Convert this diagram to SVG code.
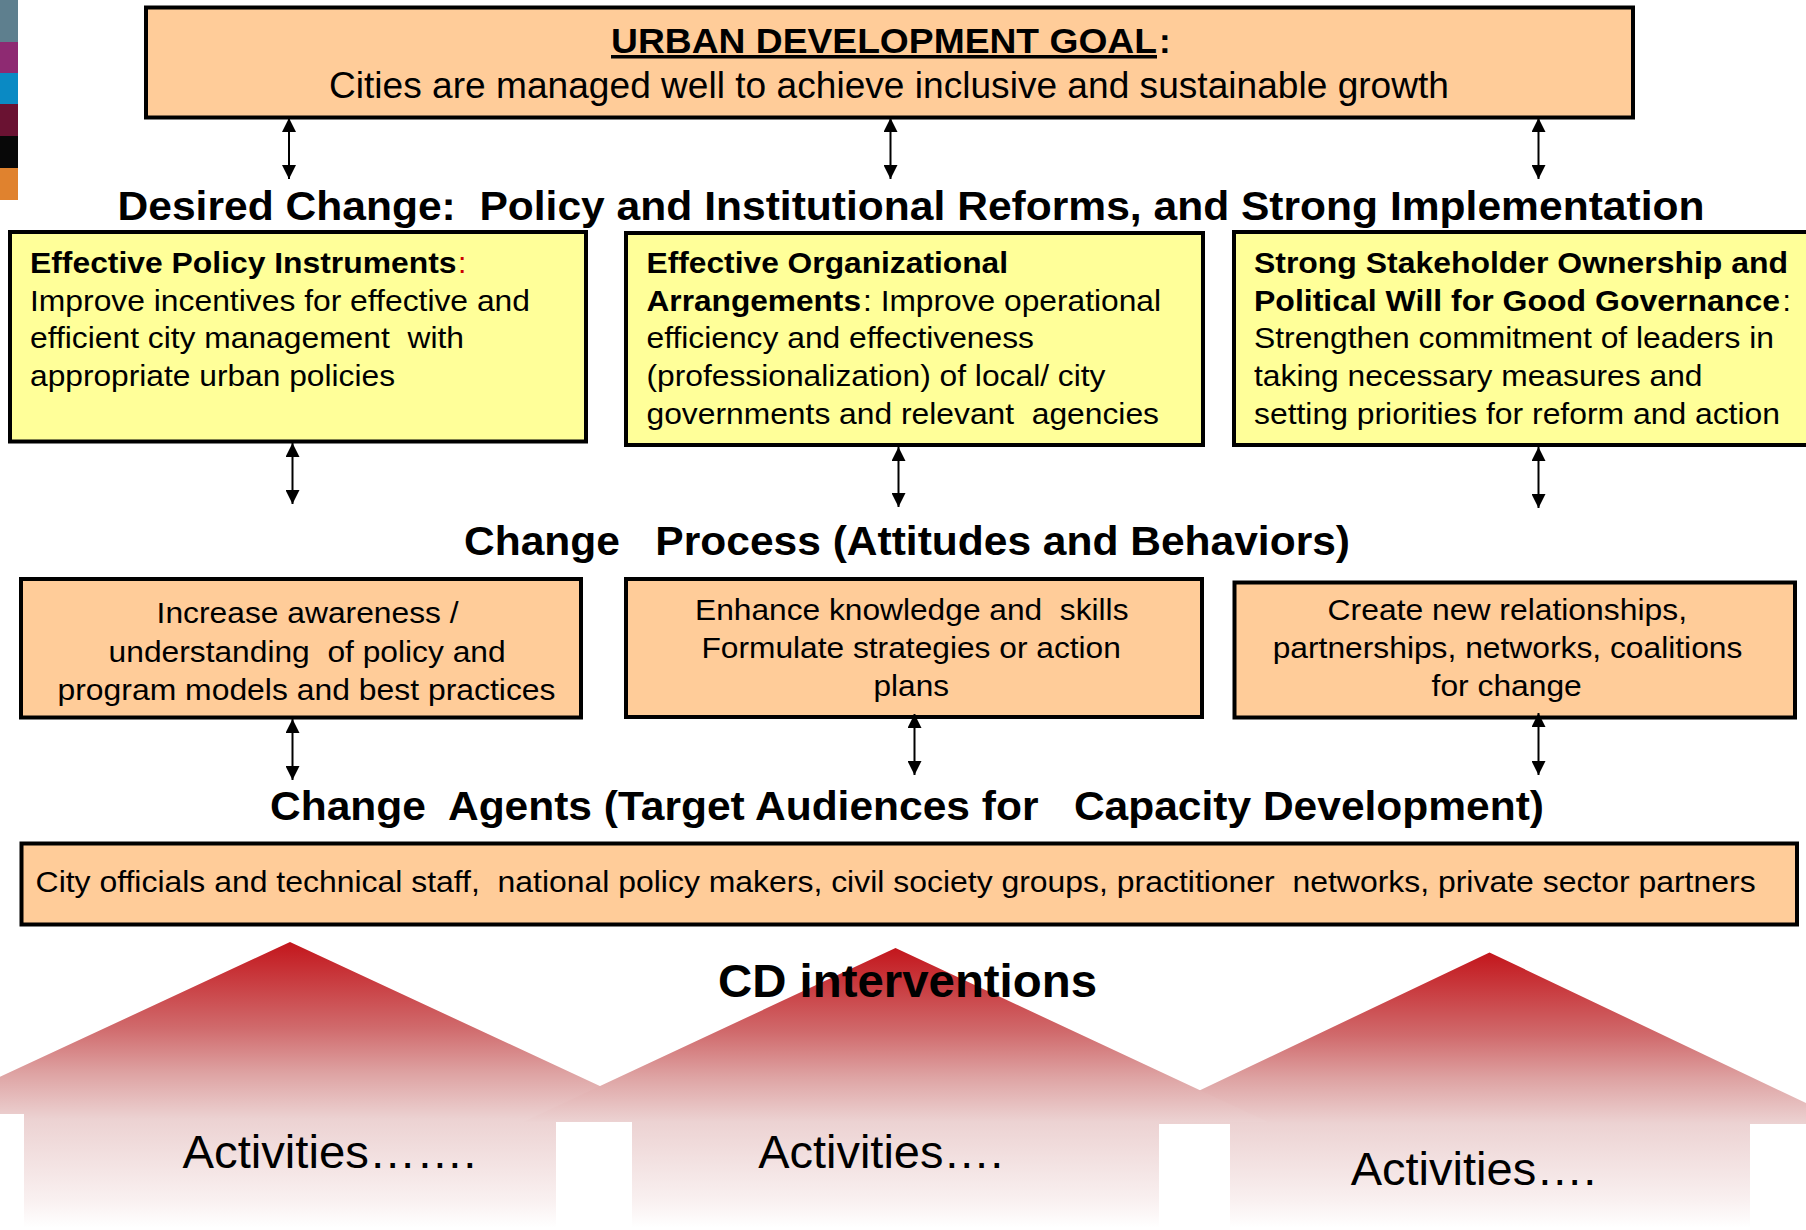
<svg xmlns="http://www.w3.org/2000/svg" width="1806" height="1230" viewBox="0 0 1806 1230">
<defs>
<style>
text{font-family:"Liberation Sans",Arial,Helvetica,sans-serif;fill:#000}
.box{stroke:#000;stroke-width:4}
.peach{fill:#FFCC99}
.yellow{fill:#FFFF99}
.h{font-size:41px;font-weight:bold}
.t{font-size:30px}
.b{font-weight:bold}
.act{font-size:46px}
.conn line{stroke:#000;stroke-width:2;marker-start:url(#ah);marker-end:url(#ah)}
.house{fill:url(#red)}
</style>
<marker id="ah" viewBox="0 0 14 14" refX="14" refY="7" markerWidth="14" markerHeight="14" markerUnits="userSpaceOnUse" orient="auto-start-reverse">
<path d="M0,0 L14,7 L0,14 z" fill="#000"/>
</marker>
<linearGradient id="red" x1="0" y1="0" x2="0" y2="1">
<stop offset="0" stop-color="#c3161c"/>
<stop offset="0.3" stop-color="#d06a6c"/>
<stop offset="0.46" stop-color="#dea3a3"/>
<stop offset="0.62" stop-color="#ecd2d2"/>
<stop offset="0.9" stop-color="#f9f0f0"/>
<stop offset="1" stop-color="#ffffff"/>
</linearGradient>
</defs>
<rect width="1806" height="1230" fill="#fff"/>

<g id="colorbars">
<rect x="0" y="0" width="18" height="42" fill="#5e7f8e"/>
<rect x="0" y="42" width="18" height="31" fill="#8e2a72"/>
<rect x="0" y="73" width="18" height="31" fill="#0a8ac4"/>
<rect x="0" y="104" width="18" height="32" fill="#6a1232"/>
<rect x="0" y="136" width="18" height="32" fill="#080808"/>
<rect x="0" y="168" width="18" height="32" fill="#e0822e"/>
</g>

<g id="houses">
<polygon id="house1" class="house" points="290,942 660,1114 556,1114 556,1228 24,1228 24,1114 -80,1114"/>
<polygon id="house3" class="house" points="1489.5,952.5 1850,1124 1750,1124 1750,1228 1230,1228 1230,1124 1129,1124"/>
<polygon id="house2" class="house" points="895.5,948 1268,1122 1159,1122 1159,1228 632,1228 632,1122 523,1122"/>
<text class="act" x="182.5" y="1168.3" textLength="294" lengthAdjust="spacingAndGlyphs">Activities…….</text>
<text class="act" x="758.3" y="1168.3" textLength="245" lengthAdjust="spacingAndGlyphs">Activities….</text>
<text class="act" x="1350.7" y="1185" textLength="245.6" lengthAdjust="spacingAndGlyphs">Activities….</text>
<text x="718" y="996.7" font-size="47" font-weight="bold" textLength="379" lengthAdjust="spacingAndGlyphs">CD interventions</text>
</g>

<g id="goal">
<rect class="box peach" x="146" y="7.5" width="1487" height="110"/>
<text x="611" y="53" font-size="35" font-weight="bold" text-decoration="underline" textLength="546" lengthAdjust="spacingAndGlyphs">URBAN DEVELOPMENT GOAL</text>
<text x="1159" y="53" font-size="35" font-weight="bold">:</text>
<text x="329" y="98" font-size="36" textLength="1120" lengthAdjust="spacingAndGlyphs">Cities are managed well to achieve inclusive and sustainable growth</text>
</g>

<g id="heading-desired">
<text class="h" x="117.5" y="220" xml:space="preserve" textLength="1587" lengthAdjust="spacingAndGlyphs">Desired Change:  Policy and Institutional Reforms, and Strong Implementation</text>
</g>

<g id="policy">
<rect class="box yellow" x="10" y="232" width="576" height="209.5"/>
<text class="t b" x="30" y="273" textLength="426.5" lengthAdjust="spacingAndGlyphs">Effective Policy Instruments</text>
<text class="t" x="458" y="273" fill="#cc0000" style="fill:#cc0000">:</text>
<text class="t" x="30" y="310.5" textLength="500" lengthAdjust="spacingAndGlyphs">Improve incentives for effective and</text>
<text class="t" x="30" y="348" xml:space="preserve" textLength="434" lengthAdjust="spacingAndGlyphs">efficient city management  with</text>
<text class="t" x="30" y="386" textLength="365" lengthAdjust="spacingAndGlyphs">appropriate urban policies</text>
</g>

<g id="organization">
<rect class="box yellow" x="626" y="233" width="577" height="212"/>
<text class="t b" x="646.5" y="273" textLength="361.5" lengthAdjust="spacingAndGlyphs">Effective Organizational</text>
<text class="t b" x="646.5" y="310.5" textLength="214.5" lengthAdjust="spacingAndGlyphs">Arrangements</text>
<text class="t" x="863" y="310.5" textLength="298" lengthAdjust="spacingAndGlyphs">: Improve operational</text>
<text class="t" x="646.5" y="348" textLength="387.5" lengthAdjust="spacingAndGlyphs">efficiency and effectiveness</text>
<text class="t" x="646.5" y="386" textLength="459" lengthAdjust="spacingAndGlyphs">(professionalization) of local/ city</text>
<text class="t" x="646.5" y="424" xml:space="preserve" textLength="512.5" lengthAdjust="spacingAndGlyphs">governments and relevant  agencies</text>
</g>

<g id="ownership">
<rect class="box yellow" x="1234" y="232" width="580" height="213"/>
<text class="t b" x="1254" y="273" textLength="534" lengthAdjust="spacingAndGlyphs">Strong Stakeholder Ownership and</text>
<text class="t b" x="1254" y="310.5" textLength="526" lengthAdjust="spacingAndGlyphs">Political Will for Good Governance</text>
<text class="t" x="1782.5" y="310.5">:</text>
<text class="t" x="1254" y="348" textLength="520" lengthAdjust="spacingAndGlyphs">Strengthen commitment of leaders in</text>
<text class="t" x="1254" y="386" textLength="448.5" lengthAdjust="spacingAndGlyphs">taking necessary measures and</text>
<text class="t" x="1254" y="424" textLength="526" lengthAdjust="spacingAndGlyphs">setting priorities for reform and action</text>
</g>

<g id="heading-process">
<text class="h" x="464" y="555" xml:space="preserve" textLength="886" lengthAdjust="spacingAndGlyphs">Change   Process (Attitudes and Behaviors)</text>
</g>

<g id="awareness">
<rect class="box peach" x="21" y="579" width="560" height="138.5"/>
<text class="t" x="156.6" y="623" textLength="302" lengthAdjust="spacingAndGlyphs">Increase awareness /</text>
<text class="t" x="108.6" y="661.5" xml:space="preserve" textLength="397" lengthAdjust="spacingAndGlyphs">understanding  of policy and</text>
<text class="t" x="57.5" y="700" textLength="498" lengthAdjust="spacingAndGlyphs">program models and best practices</text>
</g>

<g id="knowledge">
<rect class="box peach" x="626" y="579" width="576" height="138"/>
<text class="t" x="695" y="620" xml:space="preserve" textLength="433.5" lengthAdjust="spacingAndGlyphs">Enhance knowledge and  skills</text>
<text class="t" x="701.4" y="658" textLength="419.5" lengthAdjust="spacingAndGlyphs">Formulate strategies or action</text>
<text class="t" x="873.5" y="696" textLength="75.5" lengthAdjust="spacingAndGlyphs">plans</text>
</g>

<g id="relationships">
<rect class="box peach" x="1234.5" y="582.5" width="560.5" height="135"/>
<text class="t" x="1327.6" y="620" textLength="359.4" lengthAdjust="spacingAndGlyphs">Create new relationships,</text>
<text class="t" x="1272.7" y="658" textLength="469.7" lengthAdjust="spacingAndGlyphs">partnerships, networks, coalitions</text>
<text class="t" x="1431.6" y="695.5" textLength="150.2" lengthAdjust="spacingAndGlyphs">for change</text>
</g>

<g id="heading-agents">
<text class="h" x="270" y="820" xml:space="preserve" textLength="1274" lengthAdjust="spacingAndGlyphs">Change  Agents (Target Audiences for   Capacity Development)</text>
</g>

<g id="audiences">
<rect class="box peach" x="21.5" y="843.5" width="1775.5" height="81"/>
<text class="t" x="35.6" y="892" xml:space="preserve" textLength="1720" lengthAdjust="spacingAndGlyphs">City officials and technical staff,  national policy makers, civil society groups, practitioner  networks, private sector partners</text>
</g>

<g id="connectors" class="conn">
<line x1="289" y1="118" x2="289" y2="179"/>
<line x1="890.5" y1="118" x2="890.5" y2="179"/>
<line x1="1538.5" y1="118" x2="1538.5" y2="179"/>
<line x1="292.5" y1="443" x2="292.5" y2="504"/>
<line x1="898.5" y1="447" x2="898.5" y2="507"/>
<line x1="1538.5" y1="447" x2="1538.5" y2="508"/>
<line x1="292.5" y1="719" x2="292.5" y2="780"/>
<line x1="914.5" y1="714" x2="914.5" y2="775"/>
<line x1="1538.5" y1="713" x2="1538.5" y2="775"/>
</g>
</svg>
